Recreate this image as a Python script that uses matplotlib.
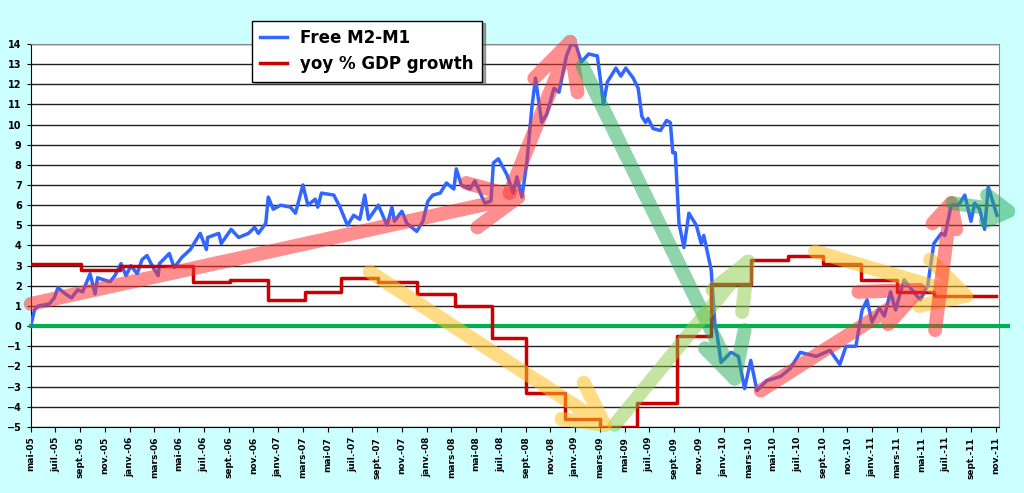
import numpy as np
import matplotlib.pyplot as plt

# months since mai-05
m2_month = [0, 0.3, 0.6, 1.5, 1.9, 2.2, 2.8, 3.3, 3.8, 4.2, 4.8, 5.2, 5.4, 6.4, 6.8, 7.3, 7.7, 8.1, 8.6, 9.0,
            9.4, 9.9, 10.3, 10.4, 11.2, 11.6, 12.2, 12.9, 13.7, 14.2, 14.3, 15.2, 15.4, 16.2, 16.8, 17.6,
            18.1, 18.4, 19.0, 19.2, 19.6, 20.2, 21.0, 21.4, 22.0, 22.4, 23.0, 23.2, 23.5, 24.5, 25.0, 25.6,
            26.1, 26.6, 27.0, 27.3, 28.1, 28.8, 29.2, 29.4, 30.0, 30.4, 31.2, 31.7, 32.1, 32.5, 33.1, 33.6,
            34.2, 34.4, 34.8, 35.5, 35.9, 36.7, 37.2, 37.4, 37.8, 38.5, 39.0, 39.3, 39.7, 40.1, 40.5, 40.8,
            41.3, 41.7, 42.3, 42.7, 43.3, 43.7, 44.1, 44.5, 45.1, 45.8, 46.3, 46.6, 47.3, 47.7, 48.1, 48.7,
            49.1, 49.4, 49.7, 49.9, 50.3, 50.9, 51.4, 51.7, 51.9, 52.1, 52.4, 52.8, 53.2, 53.8, 54.2, 54.4,
            55.0, 55.3, 55.5, 55.8, 56.6, 57.2, 57.7, 58.2, 58.7, 59.5, 60.6, 61.4, 62.2, 63.5, 64.6, 65.4,
            65.9, 66.7, 67.2, 67.6, 68.0, 68.6, 69.0, 69.5, 69.9, 70.6, 71.1, 71.9, 72.5, 73.0, 73.6, 73.9,
            74.4, 75.0, 75.5, 76.0, 76.3, 76.7, 77.1, 77.4, 78.1]
m2_value = [0, 0.8, 1.0, 1.1, 1.4, 1.9, 1.6, 1.4, 1.8, 1.7, 2.6, 1.6, 2.4, 2.2, 2.5, 3.1, 2.5, 3.0, 2.6, 3.3,
            3.5, 2.9, 2.5, 3.1, 3.6, 2.9, 3.4, 3.8, 4.6, 3.8, 4.4, 4.6, 4.1, 4.8, 4.4, 4.6,
            4.9, 4.6, 5.1, 6.4, 5.8, 6.0, 5.9, 5.6, 7.0, 6.0, 6.3, 5.9, 6.6, 6.5, 5.9, 5.0,
            5.5, 5.3, 6.5, 5.3, 6.0, 5.0, 5.9, 5.2, 5.7, 5.1, 4.7, 5.2, 6.2, 6.5, 6.6, 7.1,
            6.8, 7.8, 7.0, 6.8, 7.2, 6.1, 6.2, 8.1, 8.3, 7.5, 6.6, 7.4, 6.4, 8.1, 10.8, 12.3,
            10.1, 10.5, 11.8, 11.6, 13.4, 14.0, 13.9, 13.1, 13.5, 13.4, 11.0, 12.1, 12.8, 12.4, 12.8, 12.3,
            11.8, 10.4, 10.1, 10.3, 9.8, 9.7, 10.2, 10.1, 8.6, 8.6, 5.1, 3.9, 5.6, 5.0, 4.1, 4.5,
            2.8, 0.1, -0.5, -1.8, -1.3, -1.5, -3.1, -1.7, -3.2, -2.7, -2.5, -2.1, -1.3, -1.5, -1.2, -1.9,
            -1.0, -1.0, 0.8, 1.3, 0.2, 0.9, 0.5, 1.7, 0.8, 2.3, 1.9, 1.3, 2.0, 4.1, 4.6, 4.5,
            6.0, 6.0, 6.5, 5.2, 6.1, 5.8, 4.8, 6.9, 5.5]

gdp_start = [0, 4.1, 7.2, 13.1, 16.1, 19.2, 22.2, 25.1, 28.1, 31.2, 34.3, 37.3, 40.0, 43.2, 46.0, 49.0,
             52.2, 55.0, 58.2, 61.2, 64.0, 67.1, 70.0, 73.0]
gdp_value = [3.1, 2.8, 3.0, 2.2, 2.3, 1.3, 1.7, 2.4, 2.2, 1.6, 1.0, -0.6, -3.3, -4.6, -5.0, -3.8,
             -0.5, 2.1, 3.3, 3.5, 3.1, 2.3, 1.7, 1.5]
gdp_end = 78.0

names = {4: 'mai', 6: 'juil.', 8: 'sept.', 10: 'nov.', 0: 'janv.', 2: 'mars'}
tick_labels = []
for i in range(40):
    k = 4 + 2 * i
    tick_labels.append(f"{names[k % 12]}-{5 + k // 12:02d}")

# hand-drawn arrows: (tail, tip, barb1, barb2, colour, alpha)
arrows = [
    ((0, 1.1), (39.4, 6.4), (36.1, 4.9), (35.2, 7.1), '#FF3333', 0.55),
    ((38.7, 6.6), (43.6, 14.1), (40.7, 12.3), (44.2, 11.6), '#FF3333', 0.55),
    ((44.6, 12.9), (56.9, -2.6), (54.5, -1.1), (57.7, -0.2), '#22AA55', 0.5),
    ((47.2, -4.9), (58.0, 3.2), (55.1, 1.8), (57.5, 0.7), '#88CC44', 0.5),
    ((27.4, 2.7), (46.4, -4.9), (42.9, -4.6), (44.7, -2.8), '#FFC020', 0.55),
    ((63.4, 3.7), (75.6, 1.5), (72.7, 3.3), (71.8, 1.0), '#FFC020', 0.55),
    ((59.0, -3.2), (71.8, 1.8), (66.9, 1.7), (69.3, 0.1), '#FF3333', 0.55),
    ((73.1, -0.2), (74.4, 6.1), (72.9, 5.1), (74.8, 4.8), '#FF3333', 0.55),
    ((74.5, 6.1), (79.0, 5.7), (77.3, 6.5), (77.2, 5.2), '#22AA55', 0.5),
]

fig = plt.figure(figsize=(10.24, 4.93), dpi=100, facecolor='#CCFFFF')
ax = fig.add_axes([0.030, 0.134, 0.946, 0.777])
ax.set_facecolor('white')

ax.set_xlim(0, 78.3)
ax.set_ylim(-5, 14)
ax.set_yticks(range(-5, 15))
ax.grid(axis='y', color='#222222', lw=1)
ax.set_axisbelow(True)

gx = []
gy = []
for i, v in enumerate(gdp_value):
    end = gdp_start[i + 1] if i + 1 < len(gdp_start) else gdp_end
    gx += [gdp_start[i], end]
    gy += [v, v]

ax.axhline(0, color='#00B050', lw=3, xmax=1.009, clip_on=False, zorder=3)
l1, = ax.plot(m2_month, m2_value, color='#3366FF', lw=2.5, zorder=4, label='Free M2-M1')
l2, = ax.plot(gx, gy, color='#CC0000', lw=2.5, zorder=4, label='yoy % GDP growth')

# one path per arrow so overlapping strokes don't darken
for tail, tip, b1, b2, c, a in arrows:
    xs = [tail[0], tip[0], np.nan, b1[0], tip[0], b2[0]]
    ys = [tail[1], tip[1], np.nan, b1[1], tip[1], b2[1]]
    ax.plot(xs, ys, color=c, alpha=a, lw=10, solid_capstyle='round',
            solid_joinstyle='round', zorder=5, clip_on=False)

ax.set_xticks(np.arange(0, 80, 2))
ax.set_xticklabels(tick_labels, rotation=90, fontsize=6.5, fontweight='bold')
ax.tick_params(axis='y', labelsize=7, length=3)
for t in ax.get_yticklabels():
    t.set_fontweight('bold')
for s in ['top', 'right']:
    ax.spines[s].set_color('#888888')

leg = fig.legend(handles=[l1, l2], loc='upper left', bbox_to_anchor=(0.238, 0.975),
                 prop={'weight': 'bold', 'size': 12}, fancybox=False, shadow=True,
                 edgecolor='black', framealpha=1, handlelength=1.6, borderpad=0.5)
leg.get_frame().set_linewidth(1)

fig.savefig('out.png', dpi=100, facecolor=fig.get_facecolor())
